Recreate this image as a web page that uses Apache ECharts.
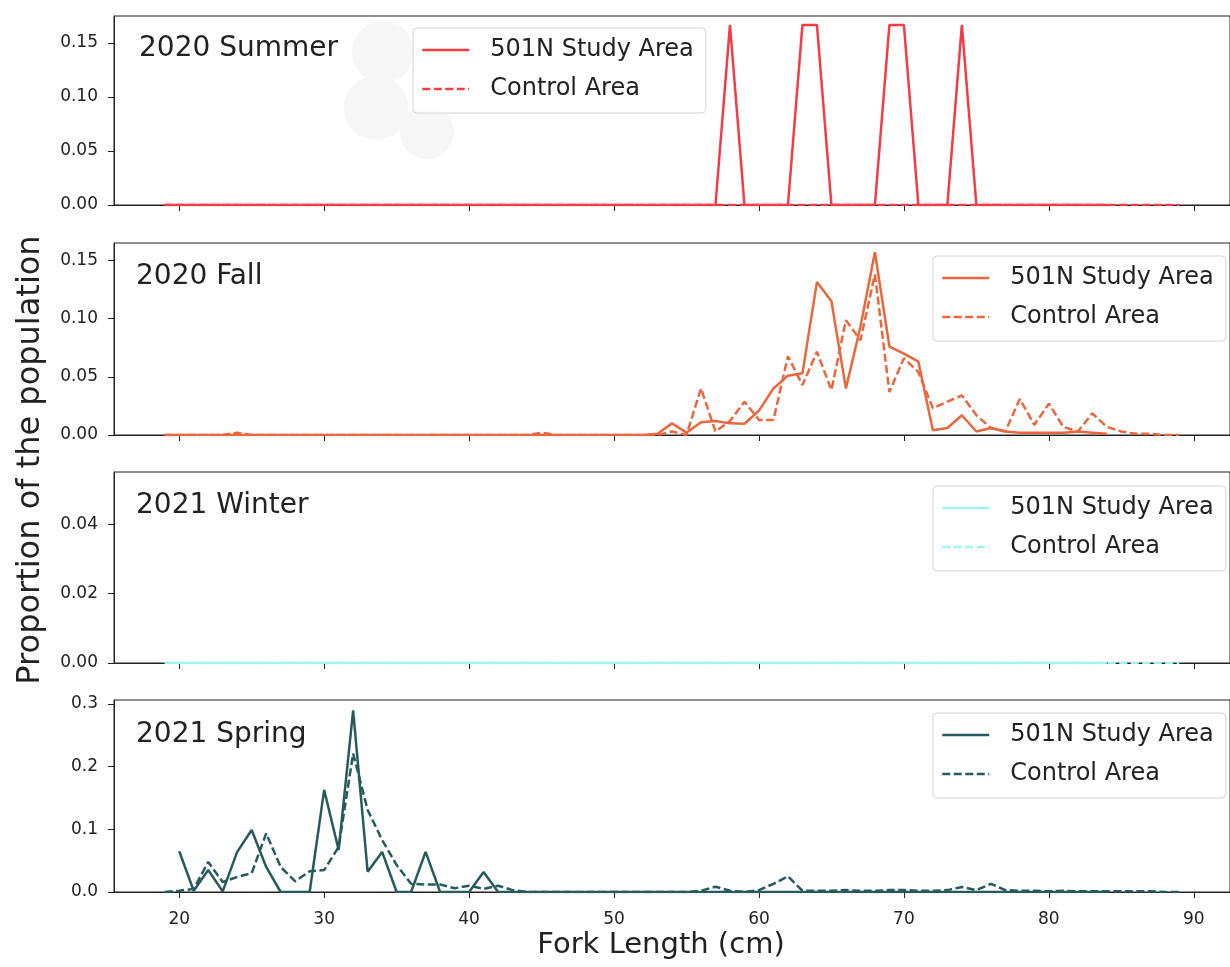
<!DOCTYPE html>
<html>
<head>
<meta charset="utf-8">
<script src="https://cdn.jsdelivr.net/npm/echarts@6/dist/echarts.min.js"></script>
<style>html,body{margin:0;padding:0;background:#fff}#chart{width:1230px;height:967px}</style>
</head>
<body>
<div id="chart"></div>
<script>
// Fork length categories (cm)
const lengths = [19,20,21,22,23,24,25,26,27,28,29,30,31,32,33,34,35,36,37,38,39,40,41,42,43,44,45,46,47,48,49,50,51,52,53,54,55,56,57,58,59,60,61,62,63,64,65,66,67,68,69,70,71,72,73,74,75,76,77,78,79,80,81,82,83,84,85,86,87,88,89];

const panelTitles = ['2020 Summer', '2020 Fall', '2021 Winter', '2021 Spring'];
const seriesLabels = ['501N Study Area', 'Control Area'];
const xTicks = [20, 30, 40, 50, 60, 70, 80, 90];
const yTicks = [
  [0, 0.05, 0.10, 0.15],
  [0, 0.05, 0.10, 0.15],
  [0, 0.02, 0.04],
  [0, 0.1, 0.2, 0.3]
];

const summerStudy = [
  0,0,0,0,0,0,0,0,0,0,
  0,0,0,0,0,0,0,0,0,0,
  0,0,0,0,0,0,0,0,0,0,
  0,0,0,0,0,0,0,0,0,0.1667,
  0,0,0,0,0.1667,0.1667,0,0,0,0,
  0.1667,0.1667,0,0,0,0.1667,0,0,0,0,
  0,0,0,0,0,0,null,null,null,null,
  null];
const summerControl = [
  0,0,0,0,0,0,0,0,0,0,
  0,0,0,0,0,0,0,0,0,0,
  0,0,0,0,0,0,0,0,0,0,
  0,0,0,0,0,0,0,0,0,0,
  0,0,0,0,0,0,0,0,0,0,
  0,0,0,0,0,0,0,0,0,0,
  0,0,0,0,0,0,0,0,0,0,
  0];
const fallStudy = [
  0,0,0,0,0,0,0,0,0,0,
  0,0,0,0,0,0,0,0,0,0,
  0,0,0,0,0,0,0,0,0,0,
  0,0,0,0,0.001,0.010,0.002,0.011,0.012,0.010,
  0.0097,0.021,0.040,0.051,0.053,0.1315,0.115,0.040,0.093,0.157,
  0.076,0.070,0.063,0.004,0.006,0.017,0.003,0.006,0.003,0.002,
  0.002,0.002,0.002,0.003,0.002,0.001,null,null,null,null,
  null];
const fallControl = [
  0,0,0,0,0,0.002,0,0,0,0,
  0,0,0,0,0,0,0,0,0,0,
  0,0,0,0,0,0,0.002,0,0,0,
  0,0,0,0,0,0.003,0,0.040,0.003,0.012,
  0.0286,0.0129,0.0129,0.0677,0.0429,0.0715,0.0386,0.0986,0.0815,0.138,
  0.037,0.066,0.054,0.023,0.0286,0.034,0.017,0.006,0.003,0.031,
  0.0086,0.027,0.007,0.003,0.0186,0.007,0.003,0.001,0.001,0,
  0];
const winterStudy = [
  0,0,0,0,0,0,0,0,0,0,
  0,0,0,0,0,0,0,0,0,0,
  0,0,0,0,0,0,0,0,0,0,
  0,0,0,0,0,0,0,0,0,0,
  0,0,0,0,0,0,0,0,0,0,
  0,0,0,0,0,0,0,0,0,0,
  0,0,0,0,0,0,null,null,null,null,
  null];
const winterControl = [
  0,0,0,0,0,0,0,0,0,0,
  0,0,0,0,0,0,0,0,0,0,
  0,0,0,0,0,0,0,0,0,0,
  0,0,0,0,0,0,0,0,0,0,
  0,0,0,0,0,0,0,0,0,0,
  0,0,0,0,0,0,0,0,0,0,
  0,0,0,0,0,0,0,0,0,0,
  0];
const springStudy = [
  null,0.065,0.002,0.035,0.001,0.064,0.099,0.040,0,0,
  0,0.163,0.067,0.290,0.0325,0.064,0,0,0.064,0,
  0,0,0.032,0,0,0,0,0,0,0,
  0,0,0,0,0,0,0,0,0,0,
  0,0,0,0,0,0,0,0,0,0,
  0,0,0,0,0,0,0,0,0,0,
  0,0,0,0,0,0,null,null,null,null,
  null];
const springControl = [
  0,0.002,0.005,0.048,0.016,0.024,0.030,0.0935,0.040,0.017,
  0.033,0.035,0.072,0.221,0.131,0.083,0.043,0.013,0.012,0.012,
  0.006,0.010,0.005,0.010,0.003,0,0,0,0,0,
  0,0,0,0,0,0,0,0.002,0.0085,0.002,
  0,0.003,0.013,0.025,0.002,0.002,0.002,0.003,0.002,0.002,
  0.003,0.003,0.002,0.002,0.003,0.008,0.003,0.013,0.003,0.002,
  0.002,0.001,0.002,0.001,0.001,0.001,0.001,0.001,0.001,0,
  0];

const panelData = [
  [summerStudy, summerControl],
  [fallStudy, fallControl],
  [winterStudy, winterControl],
  [springStudy, springControl]
];
const panelColors = ['#f23c46', '#e8673f', '#9ef3f3', '#275a5b'];
const yMax = [0.175, 0.165, 0.055, 0.3065];
const yDecimals = [2, 2, 2, 1];

// layout
const gridTops = [16, 243, 472, 700];
const gridHeights = [189, 192, 191, 192];
const legendLefts = [413, 933, 933, 933];
const legendTops = [28, 256, 486, 713];
const titleLefts = [139, 136, 136, 136];
const titleCenters = [49, 277, 506, 735];

const FONT = 'DejaVu Sans';
const INK = '#222';

const grids = [], xAxes = [], yAxes = [], series = [], legends = [], titles = [];
for (let p = 0; p < 4; p++) {
  grids.push({left: 114, right: -6, top: gridTops[p], height: gridHeights[p],
    show: true, borderColor: INK, borderWidth: 1, backgroundColor: 'transparent', containLabel: false});
  xAxes.push({type: 'value', gridIndex: p, min: 15.5, max: 92.5,
    axisLine: {show: true, onZero: false, lineStyle: {color: INK, width: 1}},
    axisTick: {show: true, length: 6, lineStyle: {color: INK}, customValues: xTicks},
    axisLabel: {show: p === 3, customValues: xTicks, fontFamily: FONT, fontSize: 17, color: INK, margin: 19},
    splitLine: {show: false}});
  yAxes.push({type: 'value', gridIndex: p, min: 0, max: yMax[p],
    axisLine: {show: true, lineStyle: {color: INK, width: 1}},
    axisTick: {show: true, length: 6, lineStyle: {color: INK}, customValues: yTicks[p]},
    axisLabel: {show: true, customValues: yTicks[p], fontFamily: FONT, fontSize: 17, color: INK, margin: 16,
      formatter: v => v.toFixed(yDecimals[p])},
    splitLine: {show: false}});
  const names = [];
  for (let s = 0; s < 2; s++) {
    const name = panelTitles[p] + '|' + seriesLabels[s];
    names.push(name);
    const vals = panelData[p][s];
    const data = [];
    for (let i = 0; i < lengths.length; i++) {
      if (vals[i] !== null) data.push([lengths[i], vals[i]]);
    }
    series.push({type: 'line', name: name, xAxisIndex: p, yAxisIndex: p, data: data,
      symbol: 'none', showSymbol: false, clip: true, z: 3,
      color: panelColors[p],
      lineStyle: {color: panelColors[p], width: 2.5, type: s === 0 ? 'solid' : [8, 3.5]}});
  }
  legends.push({data: names, orient: 'vertical', left: legendLefts[p], top: legendTops[p],
    itemWidth: 47, itemHeight: 14, itemGap: 11, padding: [8, 12, 10, 8],
    backgroundColor: 'rgba(255,255,255,0.8)', borderColor: '#d4d4d4', borderWidth: 1, borderRadius: 4,
    selectedMode: false, z: 5,
    itemStyle: {color: 'rgba(0,0,0,0)', borderColor: 'rgba(0,0,0,0)', borderWidth: 0, opacity: 0},
    lineStyle: {width: 2.5},
    formatter: n => n.split('|')[1],
    textStyle: {fontFamily: FONT, fontSize: 24, color: INK, lineHeight: 28, padding: [0, 0, 0, 16]}});
  titles.push({text: panelTitles[p], left: titleLefts[p], top: titleCenters[p] - 15, padding: 0,
    textStyle: {fontFamily: FONT, fontSize: 28, fontWeight: 'normal', color: INK, lineHeight: 30}});
}

const chart = echarts.init(document.getElementById('chart'), null, {renderer: 'canvas'});
chart.setOption({
  animation: false,
  backgroundColor: '#fff',
  title: titles,
  grid: grids,
  xAxis: xAxes,
  yAxis: yAxes,
  legend: legends,
  series: series,
  graphic: [
    {type: 'circle', shape: {cx: 383, cy: 52, r: 31}, style: {fill: '#f6f6f6'}, z: -1, silent: true},
    {type: 'circle', shape: {cx: 376, cy: 108, r: 32}, style: {fill: '#f6f6f6'}, z: -1, silent: true},
    {type: 'circle', shape: {cx: 427, cy: 132, r: 27}, style: {fill: '#f6f6f6'}, z: -1, silent: true},
    {type: 'text', x: 31, y: 460, rotation: Math.PI / 2,
      style: {text: 'Proportion of the population', fontFamily: FONT, fontSize: 32, fill: INK, align: 'center', verticalAlign: 'middle'}},
    {type: 'text', x: 661, y: 945,
      style: {text: 'Fork Length (cm)', fontFamily: FONT, fontSize: 29, fill: INK, align: 'center', verticalAlign: 'middle'}}
  ]
});
</script>
</body>
</html>
